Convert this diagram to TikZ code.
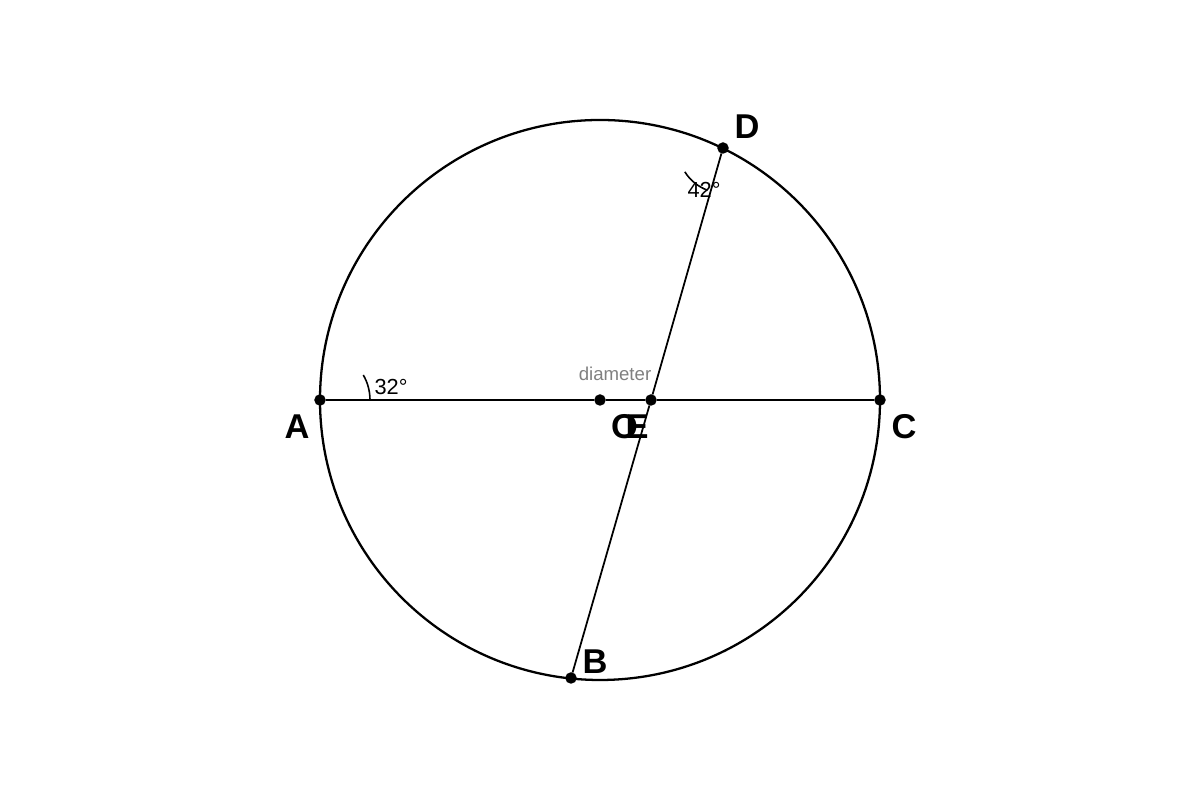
\documentclass[tikz,border=0pt]{standalone}
\usepackage{fontspec}
\setmainfont{Liberation Sans}
\usetikzlibrary{positioning,calc}
\tikzset{
    pt/.style={
        circle,
        draw=black,
        fill=black,
        inner sep=0pt,
        minimum size=1mm,
    },
    ptlabel/.style={
        font=\fontsize{9.8}{10}\selectfont\bfseries,
        inner sep=0pt,
    },
    anglabel/.style={
        font=\fontsize{6.2}{7}\selectfont,
        inner sep=0pt,
    },
    note/.style={
        font=\fontsize{5.3}{6}\selectfont,
        text=gray,
        inner sep=0pt,
    },
    chord/.style={
        draw,
        -,
        line width=0.5pt,
    },
    diam/.style={
        draw,
        -,
        line width=0.65pt,
    },
}
\begin{document}
\begin{tikzpicture}
    \useasboundingbox (0,0) rectangle (12,8);
    \draw[line width=0.65pt] (6,4) circle (2.8);
    \node [pt] (A) at (3.2,4) {};
    \node [pt] (C) at (8.8,4) {};
    \node [pt] (O) at (6,4) {};
    \node [pt] (E) at (6.51,4) {};
    \node [pt] (D) at (7.23,6.52) {};
    \node [pt] (B) at (5.71,1.22) {};
    \draw [diam] (A) -- (O) -- (E) -- (C);
    \draw [chord] (D) -- (E) -- (B);
    % angle marks
    \draw [line width=0.45pt] (A.center) ++(0:0.5) arc[start angle=0,end angle=30,radius=0.5];
    \draw [line width=0.45pt] (D.center) ++(212:0.45) arc[start angle=212,end angle=250,radius=0.45];
    \node [anglabel] (a1) at (3.91,4.13) {32°};
    \node [anglabel] (a2) at (7.04,6.10) {42°};
    \node [note] (dm) at (6.15,4.26) {diameter};
    % point labels
    \node [ptlabel] (lA) at (2.97,3.73) {A};
    \node [ptlabel] (lC) at (9.04,3.73) {C};
    \node [ptlabel] (lD) at (7.47,6.73) {D};
    \node [ptlabel] (lB) at (5.95,1.38) {B};
    \node [ptlabel] (lO) at (6.245,3.73) {O};
    \node [ptlabel] (lE) at (6.37,3.73) {E};
\end{tikzpicture}
\end{document}
